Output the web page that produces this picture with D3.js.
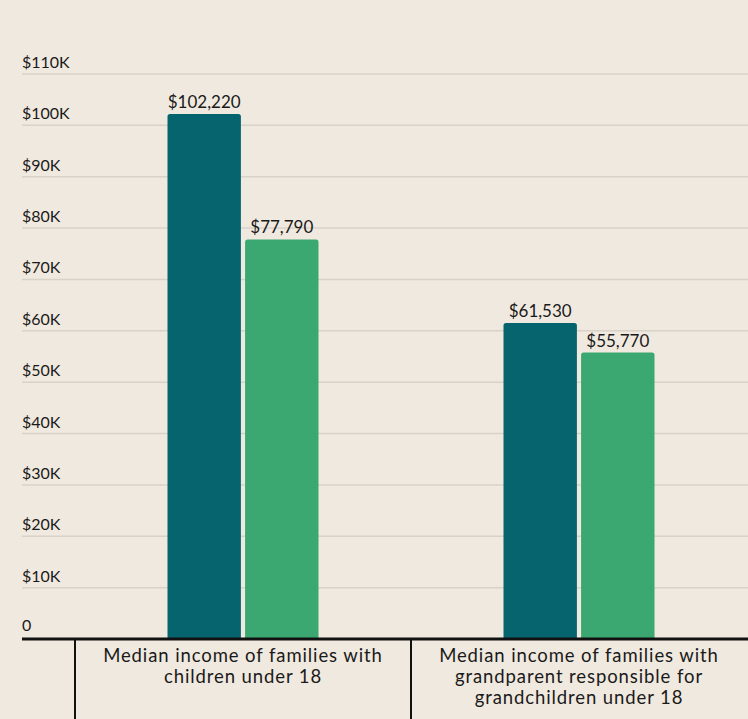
<!DOCTYPE html>
<html><head><meta charset="utf-8">
<script src="https://cdn.jsdelivr.net/npm/d3@7/dist/d3.min.js"></script>
<style>
html,body{margin:0;padding:0;background:#f0e9df;}
svg{display:block;font-family:"Lato","Open Sans",sans-serif;}
</style></head>
<body><svg id="c" width="748" height="719"></svg>
<script>
const categories = [
  ["Median income of families with", "children under 18"],
  ["Median income of families with", "grandparent responsible for", "grandchildren under 18"]
];
const seriesNames = ["All families", "Comparison"];
const seriesA = [102220, 61530];
const seriesB = [77790, 55770];
const yTicks = [0,10000,20000,30000,40000,50000,60000,70000,80000,90000,100000,110000];
const yTickLabels = ["0","$10K","$20K","$30K","$40K","$50K","$60K","$70K","$80K","$90K","$100K","$110K"];
const colors = ["#06646f", "#3aa870"];

const svg = d3.select("#c");
const W = 748, H = 719;
const y = d3.scaleLinear().domain([0,110000]).range([639,74]);
const x = d3.scaleBand().domain(d3.range(categories.length)).range([75,747]).paddingInner(0).paddingOuter(0);
const inner = d3.scaleBand().domain([0,1]).range([0,151]).paddingInner(0.054);

svg.append("rect").attr("width",W).attr("height",H).attr("fill","#f0e9df");

// gridlines
svg.append("g").selectAll("line").data(yTicks.slice(1)).join("line")
  .attr("x1",22).attr("x2",W).attr("y1",d=>y(d)).attr("y2",d=>y(d))
  .attr("stroke","#d8d2c8").attr("stroke-width",1.5);

// y labels
svg.append("g").selectAll("text").data(yTicks).join("text")
  .attr("x",22).attr("y",(d,i)=>y(d)-(i===0?8:6))
  .attr("font-size",16).attr("fill","#1a1a1a")
  .text((d,i)=>yTickLabels[i]);

// bars
function topRounded(x0,y0,w,h,r){
  return `M${x0},${y0+h}V${y0+r}Q${x0},${y0} ${x0+r},${y0}H${x0+w-r}Q${x0+w},${y0} ${x0+w},${y0+r}V${y0+h}Z`;
}
const data = [];
categories.forEach((c,i)=>{ [seriesA[i],seriesB[i]].forEach((v,j)=>data.push({i,j,v})); });
const g = svg.append("g");
g.selectAll("path").data(data).join("path")
  .attr("d",d=>{
    const x0 = x(d.i)+(x.bandwidth()-151)/2+inner(d.j);
    return topRounded(x0,y(d.v),inner.bandwidth(),y(0)-y(d.v),2.5);
  })
  .attr("fill",d=>colors[d.j]);
g.selectAll("text").data(data).join("text")
  .attr("x",d=>x(d.i)+(x.bandwidth()-151)/2+inner(d.j)+inner.bandwidth()/2)
  .attr("y",d=>y(d.v)-6)
  .attr("text-anchor","middle").attr("font-size",17).attr("fill","#1a1a1a")
  .text(d=>"$"+d3.format(",")(d.v));

// baseline
svg.append("line").attr("x1",22).attr("x2",W).attr("y1",639).attr("y2",639)
  .attr("stroke","#111").attr("stroke-width",3);
// category separators
svg.append("g").selectAll("line").data(d3.range(categories.length)).join("line")
  .attr("x1",d=>x(d)).attr("x2",d=>x(d)).attr("y1",639).attr("y2",H)
  .attr("stroke","#111").attr("stroke-width",2);

// category labels
const cl = svg.append("g").selectAll("text").data(categories).join("text")
  .attr("text-anchor","middle").attr("font-size",18.5).attr("letter-spacing",0.9).attr("fill","#1a1a1a");
cl.each(function(lines,i){
  d3.select(this).selectAll("tspan").data(lines).join("tspan")
    .attr("x",x(i)+x.bandwidth()/2).attr("y",(d,k)=>662+k*21).text(d=>d);
});
</script></body></html>
